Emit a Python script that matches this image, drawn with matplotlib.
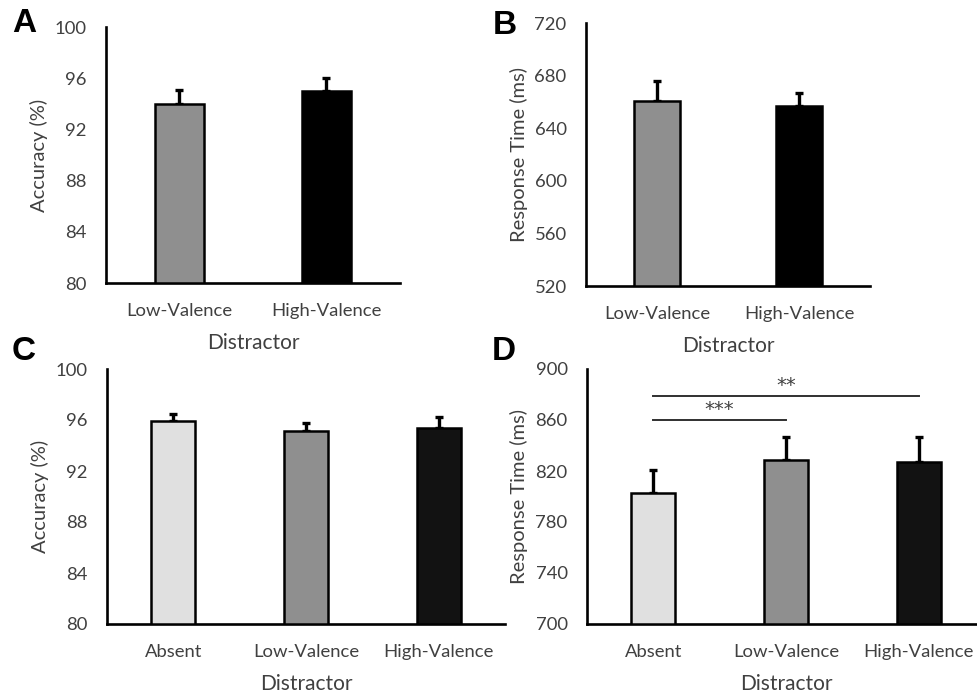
import matplotlib
matplotlib.use("Agg")
import matplotlib.pyplot as plt
import numpy as np

plt.rcParams['font.family'] = ['Lato', 'DejaVu Sans']

# ---- data ----
cats_ab = ["Low-Valence", "High-Valence"]
acc_ab = [94.0, 95.0]
acc_ab_err = [1.1, 1.0]
rt_ab = [661, 657]
rt_ab_err = [15, 9.5]

cats_cd = ["Absent", "Low-Valence", "High-Valence"]
acc_cd = [95.95, 95.15, 95.4]
acc_cd_err = [0.55, 0.65, 0.8]
rt_cd = [803, 829, 827]
rt_cd_err = [18, 18, 20]

colors_ab = ["#8f8f8f", "#000000"]
colors_cd = ["#e0e0e0", "#8f8f8f", "#121212"]

# significance: (i, j, y, label)
sig_d = [(0, 2, 879, "**"), (0, 1, 860, "***")]

TXT = "#404040"
W, H = 978, 698
fig = plt.figure(figsize=(W / 100, H / 100), dpi=100)


def px_axes(l, t, r, b):
    return fig.add_axes([l / W, 1 - b / H, (r - l) / W, (b - t) / H])


def draw(ax, cats, vals, errs, colors, ylim, yticks, ylabel, ylab_x):
    x = np.arange(len(cats))
    ax.bar(x, [v - ylim[0] for v in vals], bottom=ylim[0], width=0.33,
           color=colors, edgecolor="black", linewidth=1.8, zorder=3)
    ax.errorbar(x, vals, yerr=[np.zeros(len(vals)), errs], fmt="none",
                ecolor="black", elinewidth=2.4, capsize=3, capthick=2.4, zorder=2)
    ax.set_xlim(-0.5, len(cats) - 0.5)
    ax.set_ylim(*ylim)
    ax.set_yticks(yticks)
    ax.set_xticks(x)
    ax.set_xticklabels(cats)
    for s in ["top", "right"]:
        ax.spines[s].set_visible(False)
    for s in ["left", "bottom"]:
        ax.spines[s].set_linewidth(1.9)
        ax.spines[s].set_color("black")
    ax.tick_params(axis="both", length=0, labelsize=13.3, colors=TXT)
    ax.tick_params(axis="y", pad=14)
    ax.tick_params(axis="x", pad=14.5)
    ax.set_ylabel(ylabel, fontsize=14.5, color=TXT)
    ax.yaxis.set_label_coords(ylab_x, 0.5)
    ax.set_xlabel("Distractor", fontsize=15, color=TXT, labelpad=10)
    ax.patch.set_alpha(0)


axA = px_axes(106, 27, 400, 283)
draw(axA, cats_ab, acc_ab, acc_ab_err, colors_ab, (80, 100), range(80, 101, 4),
     "Accuracy (%)", -0.197)
axB = px_axes(586, 23, 870, 286)
draw(axB, cats_ab, rt_ab, rt_ab_err, colors_ab, (520, 720), range(520, 721, 40),
     "Response Time (ms)", -0.204)
axC = px_axes(107, 369, 505, 624)
draw(axC, cats_cd, acc_cd, acc_cd_err, colors_cd, (80, 100), range(80, 101, 4),
     "Accuracy (%)", -0.146)
axD = px_axes(587, 369, 985, 624)
draw(axD, cats_cd, rt_cd, rt_cd_err, colors_cd, (700, 900), range(700, 901, 40),
     "Response Time (ms)", -0.147)

for i, j, y, lab in sig_d:
    axD.plot([i, j], [y, y], color="#303030", linewidth=1.4, clip_on=False, zorder=4)
    axD.text((i + j) / 2, y + 0.5, lab, ha="center", va="bottom", fontsize=14,
             color=TXT, family="DejaVu Sans")

for lab, (xp, yp) in zip("ABCD", [(24.5, 23.5), (505, 25), (24, 352), (504, 351)]):
    fig.text(xp / W, 1 - yp / H, lab, fontsize=24, fontweight="bold",
             family="Liberation Sans", ha="center", va="center", color="black")

fig.savefig("out.png", dpi=100)
